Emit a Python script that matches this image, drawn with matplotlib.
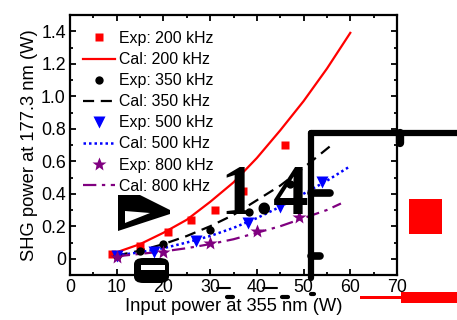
import matplotlib.pyplot as plt
import matplotlib.lines as mlines
import matplotlib.patches as mpatches

plt.rcParams['font.family'] = ['Liberation Sans', 'DejaVu Sans']

# experimental points
exp200_x = [9, 15, 21, 26, 31, 37, 46]
exp200_y = [0.03, 0.08, 0.165, 0.24, 0.30, 0.42, 0.70]
exp350_x = [10, 15, 20, 30, 38.3, 47.2]
exp350_y = [0.02, 0.045, 0.09, 0.18, 0.29, 0.46]
exp500_x = [10, 18, 27, 38, 45, 54]
exp500_y = [0.02, 0.04, 0.11, 0.22, 0.32, 0.47]
exp800_x = [10, 20, 30, 40, 49]
exp800_y = [0.01, 0.04, 0.10, 0.17, 0.26]

# calculated curves
cal200_x = [10, 15, 20, 25, 30, 35, 40, 45, 50, 55, 60]
cal200_y = [0.04, 0.09, 0.16, 0.24, 0.35, 0.47, 0.62, 0.79, 0.97, 1.17, 1.39]
cal350_x = [10, 15, 20, 25, 30, 35, 40, 45, 50, 56]
cal350_y = [0.02, 0.05, 0.09, 0.14, 0.20, 0.27, 0.36, 0.45, 0.56, 0.70]
cal500_x = [10, 15, 20, 25, 30, 35, 40, 45, 50, 55, 60]
cal500_y = [0.02, 0.04, 0.065, 0.10, 0.14, 0.19, 0.25, 0.32, 0.40, 0.48, 0.57]
cal800_x = [10, 15, 20, 25, 30, 35, 40, 45, 50, 55, 58]
cal800_y = [0.015, 0.03, 0.045, 0.065, 0.09, 0.12, 0.16, 0.20, 0.25, 0.30, 0.34]

purple = '#800080'

fig = plt.figure(figsize=(4.57, 3.2), dpi=100)
ax = fig.add_axes([70/457, 45/320, 327/457, 260/320])

l1, = ax.plot(cal200_x, cal200_y, color='red', lw=1.6)
l2, = ax.plot(cal350_x, cal350_y, color='black', lw=1.6, linestyle=(0, (5, 3)))
l3, = ax.plot(cal500_x, cal500_y, color='blue', lw=1.8, linestyle=(0, (1, 1.2)))
l4, = ax.plot(cal800_x, cal800_y, color=purple, lw=1.6, linestyle=(0, (6, 2.5, 1.5, 2.5)))

m1, = ax.plot(exp200_x, exp200_y, 's', color='red', ms=6, mec='none')
m2, = ax.plot(exp350_x, exp350_y, 'o', color='black', ms=6, mec='none')
m3, = ax.plot(exp500_x, exp500_y, 'v', color='blue', ms=8, mec='none')
m4, = ax.plot(exp800_x, exp800_y, '*', color=purple, ms=10, mec='none')

ax.set_xlim(0, 70)
ax.set_ylim(-0.1, 1.5)
ax.set_xticks(range(0, 71, 10))
ax.set_xticks(range(5, 70, 10), minor=True)
ax.set_yticks([0, 0.2, 0.4, 0.6, 0.8, 1.0, 1.2, 1.4])
ax.set_yticklabels(['0', '0.2', '0.4', '0.6', '0.8', '1.0', '1.2', '1.4'])
ax.set_yticks([-0.1, 0.1, 0.3, 0.5, 0.7, 0.9, 1.1, 1.3], minor=True)
ax.tick_params(which='both', direction='in', top=True, right=True, width=1.3,
               labelsize=12.8, pad=3)
ax.tick_params(which='major', length=4)
ax.tick_params(which='minor', length=2.5)
for s in ax.spines.values():
    s.set_linewidth(1.6)
ax.set_xlabel('Input power at 355 nm (W)', fontsize=13.2, labelpad=1)
ax.set_ylabel('SHG power at 177.3 nm (W)', fontsize=13.2, labelpad=2)

handles = [m1, l1, m2, l2, m3, l3, m4, l4]
labels = ['Exp: 200 kHz', 'Cal: 200 kHz', 'Exp: 350 kHz', 'Cal: 350 kHz',
          'Exp: 500 kHz', 'Cal: 500 kHz', 'Exp: 800 kHz', 'Cal: 800 kHz']
ax.legend(handles, labels, loc='upper left', bbox_to_anchor=(13/327, 1 - 16/260),
          frameon=False, fontsize=11.4, handlelength=2.0, handletextpad=0.3,
          labelspacing=0.385, borderpad=0, borderaxespad=0)


# overlay left over in the picture (an enlarged copy shifted over the plot)
def P(x, y):
    return x / 457, 1 - y / 320


def seg(x0, y0, x1, y1, lw, color='black'):
    a, b = P(x0, y0)
    c, d = P(x1, y1)
    fig.add_artist(mlines.Line2D([a, c], [b, d], color=color, lw=lw,
                                 solid_capstyle='round', solid_joinstyle='round'))


def box(x0, y0, x1, y1, color):
    a, b = P(x0, y1)
    fig.add_artist(mpatches.Rectangle((a, b), (x1 - x0) / 457, (y1 - y0) / 320,
                                      color=color, lw=0))


def poly(pts, color='black'):
    fig.add_artist(mpatches.Polygon([P(x, y) for x, y in pts], closed=True,
                                    color=color, lw=0))


seg(311, 278, 311, 133, 4.5)
seg(311, 133, 460, 133, 4.5)
seg(311, 193, 330, 193, 5.5)
seg(311, 256, 320, 256, 5.5)
seg(400, 133, 400, 143, 6)
tx, ty = P(220, 213)
fig.text(tx, ty, '1.4', fontsize=51, family='Liberation Serif', weight='bold',
         ha='left', va='baseline')
poly([(118, 195), (140, 195), (170, 210), (170, 214), (118, 231)])
poly([(125, 211), (150, 213), (125, 223)], color='white')
a, b = P(134, 283)
fig.add_artist(mpatches.FancyBboxPatch((a, b), 35 / 457, 25 / 320,
                                       boxstyle='round,pad=0,rounding_size=0.02',
                                       color='black', lw=0))
box(141, 265, 165, 270, 'white')
seg(217, 288, 230, 288, 1.5)
seg(263, 288, 277, 288, 1.5)
seg(227, 297, 233, 297, 3)
seg(282, 297, 288, 297, 3)
seg(311, 294, 314, 294, 3)
box(409, 199, 442, 234, 'red')
box(360, 296, 418, 299, 'red')
box(401, 292, 457, 303, 'red')

fig.savefig('out.png', dpi=100)
